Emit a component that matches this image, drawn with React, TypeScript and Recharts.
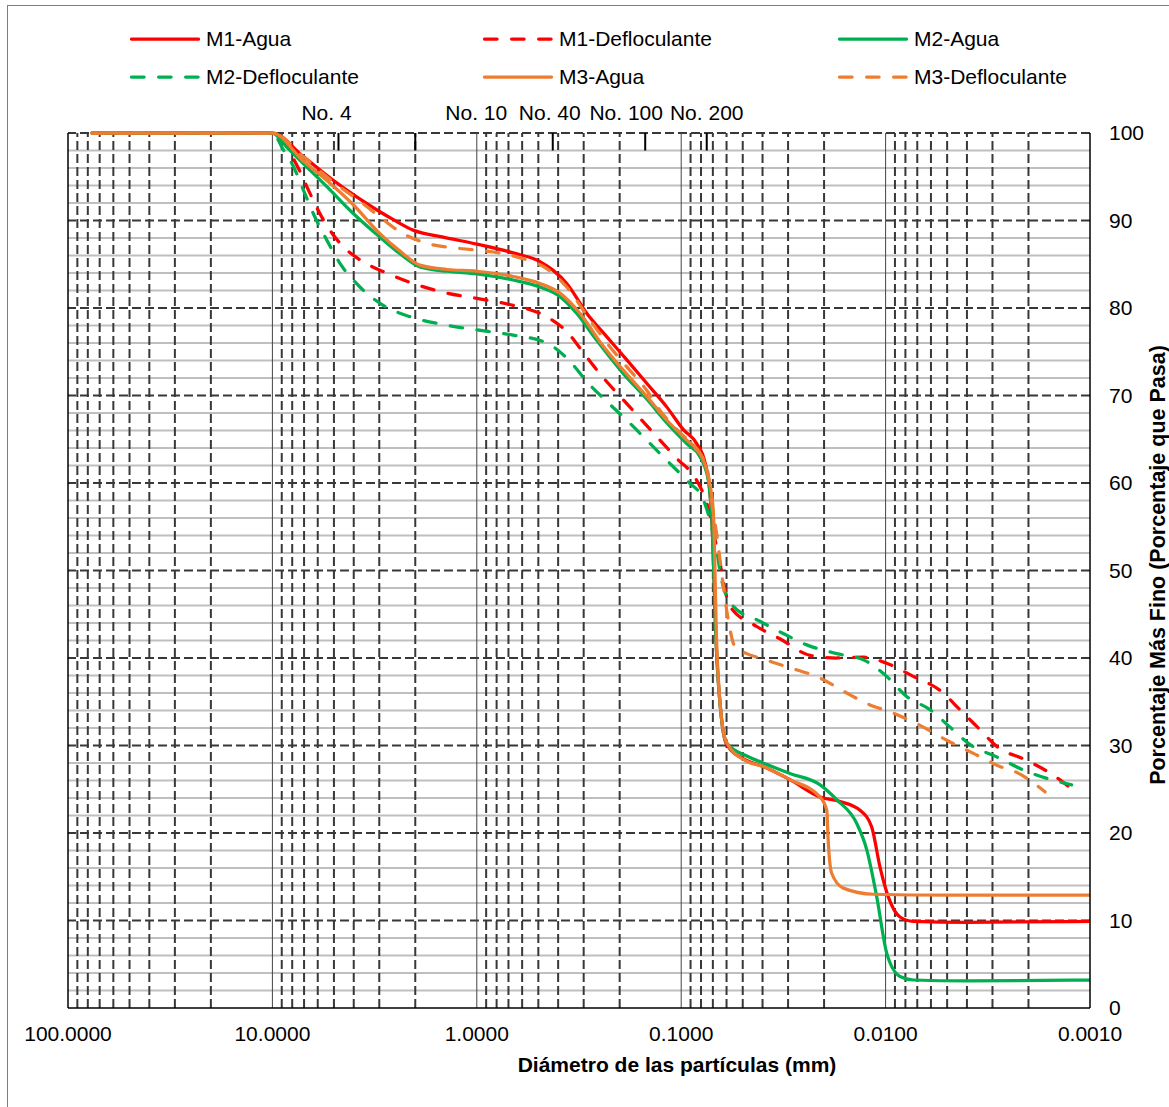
import { LineChart, Line, XAxis, YAxis, ReferenceLine } from "recharts";

const FONT = "'Liberation Sans', Arial, sans-serif";
const RED = "#FF0000";
const GREEN = "#00B050";
const ORANGE = "#ED7D31";
const GRID_DARK = "#383838";
const GRID_LIGHT = "#BFBFBF";
const DASH = "12.5 14.5";

// axis ticks
const X_TICKS = [100, 10, 1, 0.1, 0.01, 0.001];
const Y_TICKS = [0, 10, 20, 30, 40, 50, 60, 70, 80, 90, 100];
const Y_MINOR = [2, 4, 6, 8, 12, 14, 16, 18, 22, 24, 26, 28, 32, 34, 36, 38, 42, 44, 46, 48, 52, 54, 56, 58, 62, 64, 66, 68, 72, 74, 76, 78, 82, 84, 86, 88, 92, 94, 96, 98];
const DECADE_LINES = [10, 1, 0.1, 0.01];
const DECADE_BASES = [10, 1, 0.1, 0.01, 0.001];
const MINOR_MULT = [2, 3, 4, 5, 6, 7, 8, 9];

// sieve sizes (mm) shown on the top axis
const SIEVES = [4.75, 2.0, 0.425, 0.15, 0.075];
const SIEVE_LABELS = ["No. 4", "No. 10", "No. 40", "No. 100", "No. 200"];
const SIEVE_LABEL_SHIFT = [-12, 61, -3, -19, 0];

// diameter (mm) / percent passing
const M1_AGUA_D = [76.2, 10, 7.06, 5.04, 3.87, 2.98, 2.56, 2.05, 1.46, 1.0, 0.664, 0.491, 0.423, 0.363, 0.29, 0.231, 0.185, 0.1475, 0.1178, 0.0976, 0.084, 0.0762, 0.0725, 0.0709, 0.0671, 0.0634, 0.0599, 0.0478, 0.0397, 0.0294, 0.0209, 0.0167, 0.01334, 0.0117, 0.01065, 0.0097, 0.0085, 0.00732, 0.004, 0.001];
const M1_AGUA_P = [100, 100, 97.3, 94.6, 92.7, 91.0, 90.1, 88.9, 88.1, 87.3, 86.3, 85.3, 84.3, 82.8, 79.4, 76.7, 74.1, 71.4, 68.7, 66.1, 64.5, 62.2, 59.2, 56, 40.6, 32.9, 30.1, 28.3, 27.6, 26.1, 24.1, 23.6, 22.6, 20.7, 16.1, 12.7, 10.4, 9.9, 9.8, 9.9];

const M1_DEFL_D = [76.2, 10, 7.33, 6.55, 5.64, 4.67, 3.73, 2.76, 2.05, 1.4, 1.0, 0.664, 0.455, 0.363, 0.29, 0.24, 0.199, 0.159, 0.127, 0.105, 0.084, 0.075, 0.0661, 0.0577, 0.0427, 0.0329, 0.0234, 0.01734, 0.01285, 0.00988, 0.00732, 0.00542, 0.00433, 0.00345, 0.00286, 0.00204, 0.00151, 0.00121];
const M1_DEFL_P = [100, 100, 95.6, 93.1, 90.1, 87.4, 85.5, 84.0, 82.8, 81.7, 81.1, 80.3, 79.0, 77.3, 74.4, 72.0, 69.9, 67.4, 64.9, 62.8, 60.3, 57.7, 52, 45.9, 43.6, 42.2, 40.3, 40.0, 40.1, 39.4, 37.9, 36.3, 34.1, 31.8, 29.9, 28.3, 26.6, 24.9];

const M2_AGUA_D = [76.2, 10, 8.51, 7.06, 5.43, 4.02, 2.98, 2.375, 1.9, 1.4, 1.0, 0.664, 0.491, 0.392, 0.325, 0.259, 0.192, 0.1475, 0.1178, 0.094, 0.0809, 0.0737, 0.0709, 0.0671, 0.0634, 0.0599, 0.0478, 0.0397, 0.0294, 0.0209, 0.01734, 0.01385, 0.01237, 0.01105, 0.00988, 0.0085, 0.00732, 0.004, 0.001];
const M2_AGUA_P = [100, 100, 98.4, 96.5, 93.9, 90.8, 88.1, 86.2, 84.7, 84.2, 83.9, 83.2, 82.4, 81.3, 79.4, 76.3, 72.5, 69.6, 66.9, 64.5, 63.0, 60.3, 56, 40.6, 32.9, 30.3, 28.8, 28.0, 26.8, 25.5, 23.8, 21.1, 18.1, 12.7, 6.3, 3.6, 3.2, 3.1, 3.2];

const M2_DEFL_D = [76.2, 10, 8.85, 7.9, 7.06, 6.31, 5.43, 4.67, 3.73, 2.87, 2.12, 1.46, 1.0, 0.664, 0.455, 0.35, 0.29, 0.231, 0.185, 0.1475, 0.1178, 0.094, 0.078, 0.0671, 0.0634, 0.0556, 0.0412, 0.0317, 0.0243, 0.01734, 0.01285, 0.00988, 0.00789, 0.00607, 0.00484, 0.00386, 0.00286, 0.00212, 0.00123];
const M2_DEFL_P = [100, 100, 98.1, 96.2, 93.5, 90.8, 87.8, 85.1, 82.4, 80.3, 79.0, 78.1, 77.5, 76.9, 76.0, 73.9, 71.6, 69.3, 67.2, 64.9, 62.6, 60.3, 58.1, 52.3, 48.9, 45.9, 44.2, 42.8, 41.5, 40.5, 39.8, 37.9, 35.6, 34.1, 32.1, 30.1, 28.7, 27.2, 25.5];

const M3_AGUA_D = [76.2, 10, 7.06, 5.43, 4.02, 2.98, 2.375, 1.9, 1.4, 1.0, 0.664, 0.491, 0.392, 0.313, 0.24, 0.192, 0.1475, 0.1178, 0.094, 0.0809, 0.0737, 0.0697, 0.0671, 0.0634, 0.0599, 0.0478, 0.0397, 0.0294, 0.0209, 0.0194, 0.0191, 0.01836, 0.0161, 0.01148, 0.005, 0.001];
const M3_AGUA_P = [100, 100, 96.8, 94.6, 91.8, 88.5, 86.5, 84.9, 84.4, 84.2, 83.6, 82.8, 81.7, 79.4, 75.6, 72.9, 69.9, 67.2, 64.9, 63.4, 60.7, 56.9, 42, 33, 30.3, 28.2, 27.6, 26.1, 24.1, 22.6, 19.2, 15.4, 13.7, 13.0, 12.9, 12.9];

const M3_DEFL_D = [76.2, 10, 7.06, 5.04, 3.73, 2.98, 2.375, 1.76, 1.21, 0.83, 0.57, 0.455, 0.363, 0.279, 0.231, 0.185, 0.1475, 0.127, 0.105, 0.0873, 0.075, 0.0709, 0.0671, 0.0622, 0.0588, 0.0546, 0.0478, 0.0412, 0.0305, 0.0209, 0.0155, 0.01237, 0.00917, 0.00679, 0.00502, 0.00372, 0.00276, 0.00227, 0.00166];
const M3_DEFL_P = [100, 100, 97.3, 94.4, 92.2, 90.4, 88.7, 87.4, 86.8, 86.4, 85.5, 84.5, 82.4, 78.6, 76.0, 73.3, 70.6, 68.3, 66.1, 64.2, 61.9, 57.7, 54.2, 48.2, 44.3, 41.3, 40.5, 40.0, 39.0, 37.7, 36.0, 34.8, 33.7, 32.3, 30.6, 29.1, 27.6, 26.9, 24.7];

const toPoints = (d: number[], p: number[]) => d.map((v, i) => ({ d: v, p: p[i] }));

const SERIES = [
  { name: "M1-Agua", color: RED, dashed: false, data: toPoints(M1_AGUA_D, M1_AGUA_P) },
  { name: "M1-Defloculante", color: RED, dashed: true, data: toPoints(M1_DEFL_D, M1_DEFL_P) },
  { name: "M2-Agua", color: GREEN, dashed: false, data: toPoints(M2_AGUA_D, M2_AGUA_P) },
  { name: "M2-Defloculante", color: GREEN, dashed: true, data: toPoints(M2_DEFL_D, M2_DEFL_P) },
  { name: "M3-Agua", color: ORANGE, dashed: false, data: toPoints(M3_AGUA_D, M3_AGUA_P) },
  { name: "M3-Defloculante", color: ORANGE, dashed: true, data: toPoints(M3_DEFL_D, M3_DEFL_P) },
];

const MINOR_X = DECADE_BASES.flatMap((b) => MINOR_MULT.map((m) => +(b * m).toPrecision(3)));

function SieveTick(props: any) {
  const { x, y, payload } = props;
  const i = SIEVES.indexOf(payload.value);
  return (
    <text x={x + SIEVE_LABEL_SHIFT[i]} y={y} textAnchor="middle" fontSize={21} fontFamily={FONT} fill="#000">
      {SIEVE_LABELS[i]}
    </text>
  );
}

function LegendBox() {
  const cols = [130, 483, 838];
  const rows = [29, 67];
  return (
    <>
      {SERIES.map((s, i) => {
        const left = cols[i % 3];
        const top = rows[Math.floor(i / 3)];
        return (
          <div key={s.name} style={{ position: "absolute", left, top, height: 20, display: "flex", alignItems: "center" }}>
            <svg width={70} height={8} style={{ display: "block" }}>
              <line
                x1={1.6}
                x2={68.4}
                y1={4}
                y2={4}
                stroke={s.color}
                strokeWidth={3.25}
                strokeLinecap="round"
                strokeDasharray={s.dashed ? DASH : undefined}
              />
            </svg>
            <span style={{ marginLeft: 6, fontSize: 21, lineHeight: "20px", fontFamily: FONT, color: "#000", whiteSpace: "nowrap" }}>
              {s.name}
            </span>
          </div>
        );
      })}
    </>
  );
}

export default function App() {
  return (
    <div style={{ position: "absolute", left: 0, top: 0, width: 1169, height: 1107, background: "#fff", overflow: "hidden" }}>
      <div
        style={{
          position: "absolute",
          left: 7,
          top: 5,
          width: 1162,
          height: 1102,
          boxSizing: "border-box",
          borderLeft: "1.5px solid #7f7f7f",
          borderTop: "1.5px solid #7f7f7f",
        }}
      />
      <LineChart width={1169} height={1107} margin={{ top: 103, right: 29, bottom: 69, left: 68 }}>
        <XAxis
          dataKey="d"
          type="number"
          scale="log"
          domain={[0.001, 100]}
          reversed
          allowDataOverflow
          ticks={X_TICKS}
          interval={0}
          height={30}
          tickSize={0}
          tickMargin={18}
          tickFormatter={(v: number) => v.toFixed(4)}
          tick={{ fill: "#000", fontSize: 21, fontFamily: FONT }}
          axisLine={{ stroke: "#000", strokeWidth: 1.5 }}
        />
        <XAxis
          xAxisId="top"
          dataKey="d"
          type="number"
          scale="log"
          domain={[0.001, 100]}
          reversed
          allowDataOverflow
          orientation="top"
          ticks={SIEVES}
          interval={0}
          height={30}
          tickSize={0}
          tickMargin={13}
          tick={<SieveTick />}
          tickLine={false}
          axisLine={false}
        />
        <YAxis
          type="number"
          orientation="right"
          domain={[0, 100]}
          ticks={Y_TICKS}
          interval={0}
          width={50}
          tickSize={0}
          tickMargin={19}
          tick={{ fill: "#000", fontSize: 21, fontFamily: FONT, textAnchor: "start" }}
          axisLine={{ stroke: "#000", strokeWidth: 1.5 }}
        />

        {Y_MINOR.map((v) => (
          <ReferenceLine key={`hm${v}`} y={v} stroke={GRID_LIGHT} strokeWidth={2} />
        ))}
        {MINOR_X.map((v) => (
          <ReferenceLine key={`vm${v}`} x={v} stroke={GRID_DARK} strokeWidth={2} strokeDasharray="9 4" />
        ))}
        {Y_TICKS.filter((v) => v > 0).map((v) => (
          <ReferenceLine key={`hM${v}`} y={v} stroke={GRID_DARK} strokeWidth={2} strokeDasharray="9 4" />
        ))}
        {DECADE_LINES.map((v) => (
          <ReferenceLine key={`vM${v}`} x={v} stroke="#444" strokeWidth={1} />
        ))}
        <ReferenceLine x={100} stroke="#000" strokeWidth={1.5} />
        {SIEVES.map((s) => (
          <ReferenceLine
            key={`sv${s}`}
            segment={[
              { x: s, y: 100 },
              { x: s, y: 98 },
            ]}
            stroke="#000"
            strokeWidth={2}
          />
        ))}

        {SERIES.map((s) => (
          <Line
            key={s.name}
            data={s.data}
            dataKey="p"
            name={s.name}
            type="monotone"
            stroke={s.color}
            strokeWidth={3.25}
            strokeLinecap="round"
            strokeDasharray={s.dashed ? DASH : undefined}
            dot={false}
            activeDot={false}
            isAnimationActive={false}
          />
        ))}
      </LineChart>

      <LegendBox />

      <div
        style={{
          position: "absolute",
          left: 677,
          top: 1054,
          transform: "translateX(-50%)",
          fontSize: 21,
          lineHeight: "21px",
          fontWeight: "bold",
          fontFamily: FONT,
          color: "#000",
          whiteSpace: "nowrap",
        }}
      >
        Diámetro de las partículas (mm)
      </div>
      <div
        style={{
          position: "absolute",
          left: 1158,
          top: 565,
          transform: "translate(-50%, -50%) rotate(-90deg)",
          fontSize: 21.5,
          lineHeight: "21px",
          fontWeight: "bold",
          fontFamily: FONT,
          color: "#000",
          whiteSpace: "nowrap",
        }}
      >
        Porcentaje Más Fino (Porcentaje que Pasa)
      </div>
    </div>
  );
}
